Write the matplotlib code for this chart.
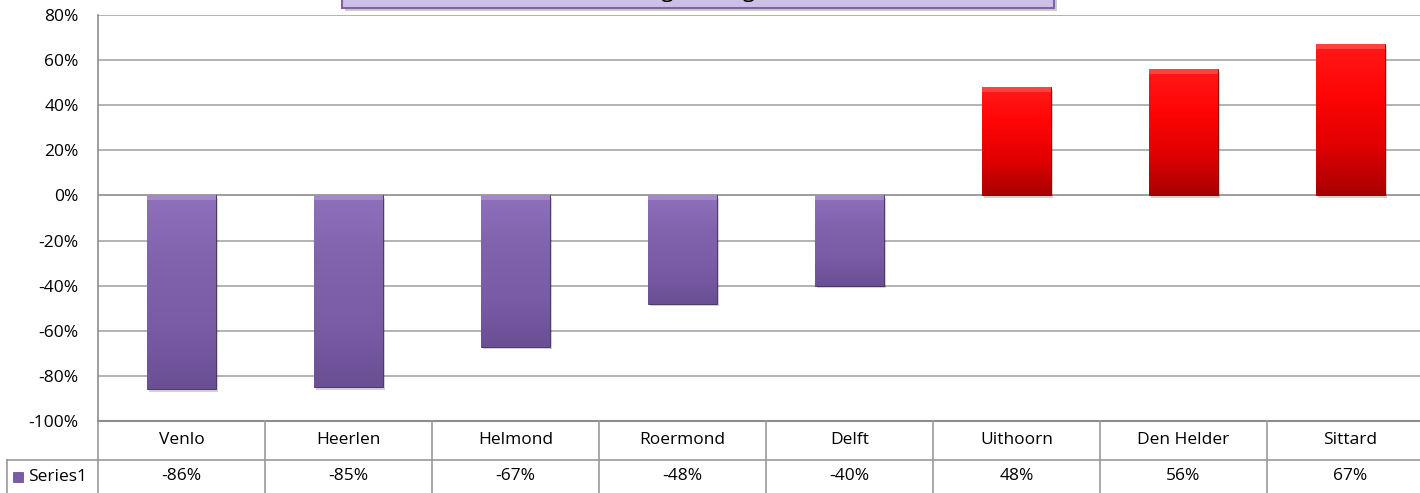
import numpy as np
import matplotlib
matplotlib.use('Agg')
import matplotlib.pyplot as plt
from matplotlib.patches import Rectangle
from matplotlib.transforms import blended_transform_factory
from matplotlib.colors import LinearSegmentedColormap

# data
cities = ["Venlo", "Heerlen", "Helmond", "Roermond", "Delft", "Uithoorn", "Den Helder", "Sittard"]
change = [-0.86, -0.85, -0.67, -0.48, -0.40, 0.48, 0.56, 0.67]
series_name = "Series1"
title = "Verandering woningvoorraad"
yticks = [-1.0, -0.8, -0.6, -0.4, -0.2, 0.0, 0.2, 0.4, 0.6, 0.8]

plt.rcParams['font.family'] = ['Open Sans', 'DejaVu Sans']
fs = 12.5

W, H = 1420, 493
fig = plt.figure(figsize=(W/100, H/100), dpi=100)

# axes placed in pixels (plot runs slightly past the right edge like the original)
left, right, top, bottom = 98, 1434, 15, 421
ax = fig.add_axes([left/W, (H-bottom)/H, (right-left)/W, (bottom-top)/H])

x = np.arange(len(cities))
ax.set_xlim(-0.5, len(cities)-0.5)
ax.set_ylim(-1.0, 0.8)

grid_col = '#a6a6a6'
for t in yticks:
    ax.axhline(t, color=grid_col if t != 0 else '#8c8c8c', lw=1.2, zorder=0)

purple = LinearSegmentedColormap.from_list('p', ['#8f70bd', '#8062ad', '#7a5ca6', '#6a4f94'])
red = LinearSegmentedColormap.from_list('r', ['#ff1a1a', '#ff0505', '#e20000', '#a80000'])
grad = np.linspace(0, 1, 256).reshape(-1, 1)

bw = 0.41
for xi, v in zip(x, change):
    cmap = red if v > 0 else purple
    # soft shadow
    ax.add_patch(Rectangle((xi - bw/2 + 0.012, min(v, 0) - 0.012), bw, abs(v),
                           facecolor='#000000', alpha=0.18, lw=0, zorder=1))
    b = ax.bar(xi, v, width=bw, color=cmap(0.5), edgecolor='#3c2c55' if v < 0 else '#7a0000',
               lw=0.6, zorder=2)[0]
    lo, hi = min(v, 0), max(v, 0)
    im = ax.imshow(grad, cmap=cmap, aspect='auto', zorder=3,
                   extent=[xi - bw/2, xi + bw/2, lo, hi], origin='upper')
    im.set_clip_path(b)
    # bevel highlight on top edge
    ax.add_patch(Rectangle((xi - bw/2, hi - 0.02), bw, 0.02,
                           facecolor='white', alpha=0.18, lw=0, zorder=4))

ax.set_yticks(yticks)
ax.set_yticklabels([f"{round(t*100)}%" for t in yticks], fontsize=fs)
ax.tick_params(axis='y', length=0, pad=14)
ax.set_xticks([])
for s in ['top', 'right', 'bottom']:
    ax.spines[s].set_visible(False)
ax.spines['left'].set_color('#8c8c8c')
ax.spines['left'].set_linewidth(1.2)

# data table below the plot
tr = blended_transform_factory(ax.transData, ax.transAxes)
ph = bottom - top
r1 = -39/ph
r2 = -(H - bottom + 5)/ph
line_col = '#9a9a9a'
ax.plot([-0.5, len(cities)-0.5], [0, 0], transform=tr, color='#8c8c8c', lw=1.5, clip_on=False)
ax.plot([-0.5, len(cities)-0.5], [r1, r1], transform=tr, color=line_col, lw=1.2, clip_on=False)
for i in range(len(cities)+1):
    ax.plot([i-0.5, i-0.5], [0, r2], transform=tr, color=line_col, lw=1.2, clip_on=False)
for xi, c, v in zip(x, cities, change):
    ax.text(xi, r1/2, c, transform=tr, ha='center', va='center', fontsize=fs)
    ax.text(xi, (r1 + r2)/2 + 0.008, f"{round(v*100)}%", transform=tr, ha='center', va='center', fontsize=fs)

# legend cell
fig.add_artist(plt.Line2D([7/W, left/W], [(H-460)/H]*2, color=line_col, lw=1.2))
fig.add_artist(plt.Line2D([7/W, 7/W], [(H-460)/H, 0], color=line_col, lw=1.2))
fig.add_artist(Rectangle((13/W, (H-482)/H), 10/W, 10/H, facecolor='#7a5ca6', edgecolor='#5a4380', lw=0.5))
fig.text(28/W, (H-477)/H, series_name, fontsize=fs, va='center', ha='left')

# title box, mostly cut off at the top
bx0, bx1 = 342, 1054
fig.add_artist(Rectangle(((bx0+3)/W, (H-11)/H), (bx1-bx0)/W, 0.1, facecolor='#000000',
                         alpha=0.2, lw=0, transform=fig.transFigure))
fig.add_artist(Rectangle((bx0/W, (H-8)/H), (bx1-bx0)/W, 0.1, facecolor='#ccc0e6',
                         edgecolor='#8064a2', lw=1.5, transform=fig.transFigure))
fig.text((bx0+bx1)/2/W, (H+3)/H, title, fontsize=16, ha='center', va='baseline')

fig.savefig('out.png', dpi=100)
